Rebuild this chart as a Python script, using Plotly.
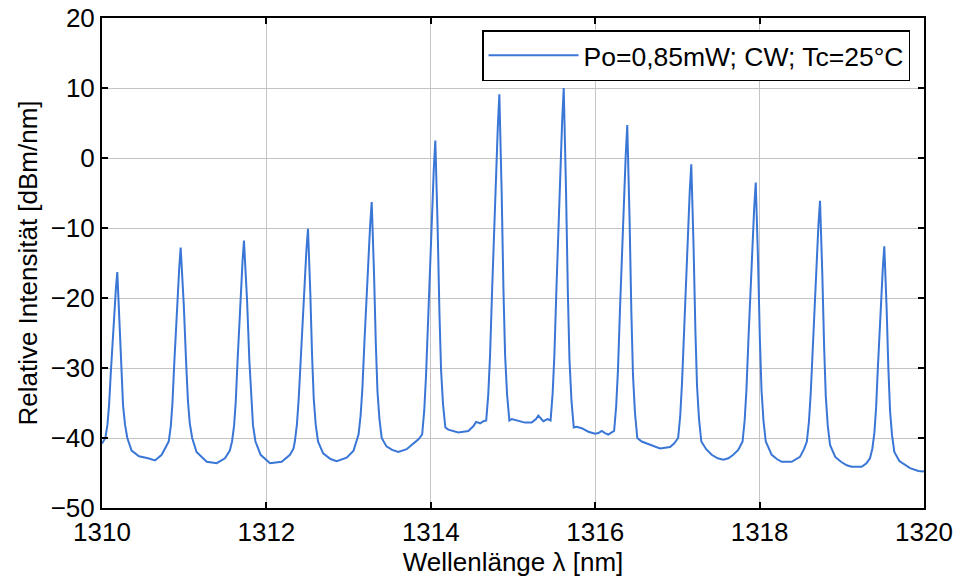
import plotly.graph_objects as go

# Wavelength [nm] and relative intensity [dBm/nm]
wavelength = [
    # start + peak 1
    1310.000, 1310.041, 1310.066, 1310.086, 1310.108, 1310.141, 1310.169, 1310.186,
    1310.196, 1310.214, 1310.236, 1310.256, 1310.280, 1310.308,
    1310.360, 1310.450, 1310.560, 1310.645, 1310.726,
    # peak 2
    1310.812, 1310.837, 1310.857, 1310.879, 1310.912, 1310.940, 1310.957,
    1310.971, 1310.995, 1311.023, 1311.045, 1311.067, 1311.097,
    1311.150, 1311.274, 1311.395, 1311.496, 1311.555,
    # peak 3
    1311.582, 1311.607, 1311.627, 1311.649, 1311.682, 1311.710, 1311.727,
    1311.741, 1311.765, 1311.793, 1311.815, 1311.837, 1311.867,
    1311.930, 1312.044, 1312.186, 1312.287, 1312.330,
    # peak 4
    1312.346, 1312.371, 1312.393, 1312.418, 1312.456, 1312.487, 1312.506,
    1312.516, 1312.534, 1312.556, 1312.576, 1312.600, 1312.628,
    1312.690, 1312.780, 1312.855, 1312.977, 1313.060,
    # peak 5
    1313.121, 1313.146, 1313.168, 1313.193, 1313.231, 1313.262, 1313.281,
    1313.291, 1313.309, 1313.331, 1313.351, 1313.375, 1313.403,
    1313.460, 1313.530, 1313.605, 1313.707, 1313.787, 1313.850,
    # peak 6
    1313.895, 1313.920, 1313.942, 1313.967, 1314.005, 1314.036, 1314.055,
    1314.065, 1314.083, 1314.105, 1314.125, 1314.149, 1314.177,
    1314.213, 1314.335, 1314.456, 1314.520, 1314.550, 1314.600, 1314.640,
    # peak 7
    1314.674, 1314.699, 1314.721, 1314.746, 1314.784, 1314.815, 1314.834,
    1314.844, 1314.862, 1314.884, 1314.904, 1314.928, 1314.956,
    1314.984, 1315.065, 1315.146, 1315.227, 1315.280, 1315.308, 1315.340, 1315.369, 1315.420,
    # peak 8
    1315.457, 1315.482, 1315.504, 1315.529, 1315.567, 1315.598, 1315.617,
    1315.627, 1315.645, 1315.667, 1315.687, 1315.711, 1315.739,
    1315.775, 1315.836, 1315.917, 1315.998, 1316.040, 1316.079, 1316.120, 1316.159, 1316.200,
    # peak 9
    1316.230, 1316.255, 1316.277, 1316.302, 1316.340, 1316.371, 1316.390,
    1316.400, 1316.418, 1316.440, 1316.460, 1316.484, 1316.512,
    1316.566, 1316.667, 1316.788, 1316.910, 1316.960,
    # peak 10
    1317.009, 1317.034, 1317.056, 1317.081, 1317.119, 1317.150, 1317.169,
    1317.179, 1317.197, 1317.219, 1317.239, 1317.263, 1317.291,
    1317.350, 1317.417, 1317.490, 1317.558, 1317.620, 1317.680, 1317.740,
    # peak 11
    1317.793, 1317.818, 1317.840, 1317.865, 1317.903, 1317.934, 1317.953,
    1317.963, 1317.981, 1318.003, 1318.023, 1318.047, 1318.075,
    1318.147, 1318.210, 1318.269, 1318.390, 1318.491, 1318.540,
    # peak 12
    1318.575, 1318.600, 1318.622, 1318.647, 1318.685, 1318.716, 1318.735,
    1318.745, 1318.763, 1318.785, 1318.805, 1318.829, 1318.857,
    1318.920, 1318.990, 1319.060, 1319.120, 1319.242, 1319.300, 1319.343,
    # peak 13
    1319.372, 1319.397, 1319.417, 1319.439, 1319.472, 1319.500, 1319.517,
    1319.527, 1319.545, 1319.567, 1319.587, 1319.611, 1319.639,
    1319.700, 1319.770, 1319.830, 1319.931, 1320.000,
]
intensity = [
    # start + peak 1
    -40.8, -40.0, -38.1, -35.3, -30.5, -23.4, -18.7, -16.3,
    -18.7, -23.4, -30.5, -35.3, -38.1, -40.0,
    -41.8, -42.6, -42.9, -43.2, -42.4,
    # peak 2
    -40.5, -38.3, -35.0, -29.4, -21.1, -15.6, -12.8,
    -15.5, -21.0, -29.1, -34.6, -37.8, -40.0,
    -42.0, -43.4, -43.6, -42.9, -41.8,
    # peak 3
    -40.5, -38.2, -34.8, -29.0, -20.4, -14.7, -11.8,
    -14.7, -20.4, -29.0, -34.8, -38.2, -40.5,
    -42.4, -43.6, -43.4, -42.4, -41.5,
    # peak 4
    -40.5, -38.1, -34.4, -28.3, -19.2, -13.1, -10.1,
    -13.1, -19.2, -28.3, -34.4, -38.1, -40.5,
    -42.2, -43.0, -43.3, -42.8, -41.8,
    # peak 5
    -39.5, -36.8, -32.9, -26.2, -16.3, -9.6, -6.3,
    -9.7, -16.4, -26.5, -33.3, -37.3, -40.0,
    -41.2, -41.7, -42.0, -41.6, -40.8, -40.2,
    # peak 6
    -39.5, -36.1, -31.1, -22.7, -10.1, -1.7, 2.5,
    -1.6, -9.8, -22.1, -30.3, -35.2, -38.5,
    -38.8, -39.2, -39.0, -38.3, -37.7, -37.9, -37.6,
    # peak 7
    -37.5, -33.8, -28.2, -18.9, -4.9, 4.4, 9.1,
    4.4, -4.9, -18.9, -28.2, -33.8, -37.5,
    -37.3, -37.5, -37.8, -37.8, -37.3, -36.8, -37.2, -37.6, -37.3,
    # peak 8
    -37.5, -33.7, -28.0, -18.5, -4.3, 5.3, 10.0,
    5.2, -4.6, -19.1, -28.8, -34.6, -38.5,
    -38.4, -38.6, -39.1, -39.4, -39.3, -39.0, -39.3, -39.5, -39.2,
    # peak 9
    -39.0, -35.5, -30.3, -21.5, -8.4, 0.3, 4.7,
    0.2, -8.7, -22.1, -31.1, -36.4, -40.0,
    -40.5, -41.0, -41.5, -41.3, -40.8,
    # peak 10
    -40.0, -36.9, -32.2, -24.4, -12.6, -4.8, -0.9,
    -4.9, -12.8, -24.7, -32.6, -37.3, -40.5,
    -41.6, -42.4, -42.9, -43.1, -42.9, -42.4, -41.7,
    # peak 11
    -40.5, -37.5, -33.1, -25.7, -14.6, -7.2, -3.5,
    -7.2, -14.6, -25.7, -33.1, -37.5, -40.5,
    -42.4, -43.0, -43.4, -43.4, -42.7, -41.6,
    # peak 12
    -40.5, -37.7, -33.6, -26.7, -16.4, -9.5, -6.1,
    -9.6, -16.6, -27.0, -34.0, -38.2, -41.0,
    -42.7, -43.4, -43.9, -44.1, -44.1, -43.6, -42.9,
    # peak 13
    -41.5, -39.2, -35.7, -29.9, -21.3, -15.5, -12.6,
    -15.5, -21.4, -30.2, -36.1, -39.6, -42.0,
    -43.3, -43.9, -44.3, -44.7, -44.8,
]

series_name = "Po=0,85mW; CW; Tc=25°C"
x_ticks = [1310, 1312, 1314, 1316, 1318, 1320]
y_ticks = [-50, -40, -30, -20, -10, 0, 10, 20]

FONT = "Liberation Sans, Arial, Helvetica, sans-serif"

fig = go.Figure()
fig.add_trace(go.Scatter(
    x=wavelength, y=intensity, mode="lines", name=series_name,
    line=dict(color="#3a76d6", width=2),
))

axis_common = dict(
    showline=True, linecolor="black", linewidth=2, mirror="ticks",
    ticks="inside", ticklen=6, tickwidth=1.5, tickcolor="black",
    showgrid=True, gridcolor="#c4c4c4", gridwidth=1, zeroline=False,
    tickfont=dict(family=FONT, size=26, color="black"),
    automargin=False,
)

fig.update_layout(
    width=955, height=577,
    margin=dict(l=102, r=31, t=18, b=69),
    paper_bgcolor="white", plot_bgcolor="white",
    font=dict(family=FONT, size=26, color="black"),
    showlegend=True,
    legend=dict(
        x=0.983, y=0.9755, xanchor="right", yanchor="top",
        bordercolor="black", borderwidth=1.5, bgcolor="white",
        font=dict(family=FONT, size=26.5, color="black"),
        itemwidth=90,
    ),
    xaxis=dict(
        range=[1310, 1320], tickvals=x_ticks,
        title=dict(text="Wellenlänge λ [nm]", font=dict(family=FONT, size=26), standoff=2),
        **axis_common,
    ),
    yaxis=dict(
        range=[-50, 20], tickvals=y_ticks,
        title=dict(text="Relative Intensität [dBm/nm]", font=dict(family=FONT, size=26), standoff=6),
        **axis_common,
    ),
)

fig.write_html("out.html")
